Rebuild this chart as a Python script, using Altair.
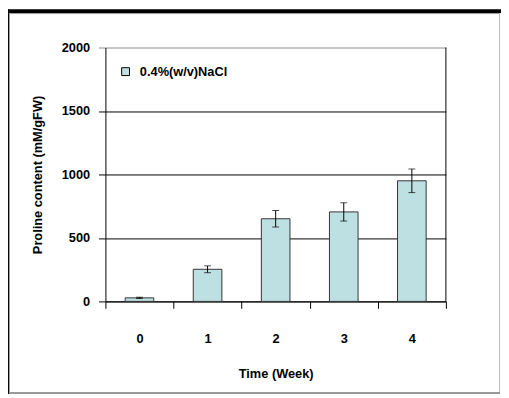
import altair as alt
import pandas as pd

# ---- data ----
weeks = ["0", "1", "2", "3", "4"]
proline = [28, 253, 651, 705, 950]
errors = [5, 27, 65, 72, 93]
series_name = "0.4%(w/v)NaCl"
y_ticks = [0, 500, 1000, 1500, 2000]

df = pd.DataFrame({"week": weeks, "proline": proline, "err": errors})
df["lo"] = df["proline"] - df["err"]
df["hi"] = df["proline"] + df["err"]
df["series"] = series_name

W, H = 346, 258
FONT = "Liberation Sans"
BAR = "#BDE1E3"

base = alt.Chart(df)

x_enc = alt.X(
    "week:N",
    sort=weeks,
    scale=alt.Scale(paddingInner=0, paddingOuter=0),
    axis=alt.Axis(
        title="Time (Week)",
        labelAngle=0,
        tickBand="extent",
        tickSize=7,
        labelPadding=25,
        titlePadding=22,
        grid=False,
    ),
)
y_enc = alt.Y(
    "proline:Q",
    scale=alt.Scale(domain=[0, 2000], nice=False),
    axis=alt.Axis(
        title="Proline content (mM/gFW)",
        values=y_ticks,
        format="d",
        tickSize=7,
        labelPadding=9,
        titlePadding=17,
        grid=True,
        gridColor={"condition": {"test": "datum.value == 2000", "value": "#8c8c8c"}, "value": "black"},
        tickColor={"condition": {"test": "datum.value == 2000", "value": "#8c8c8c"}, "value": "black"},
    ),
)

bars = base.mark_bar(width=alt.RelativeBandSize(0.42), stroke="#333333", strokeWidth=1).encode(
    x=x_enc,
    y=y_enc,
    color=alt.Color(
        "series:N",
        scale=alt.Scale(range=[BAR]),
        legend=alt.Legend(
            title=None,
            orient="none",
            legendX=14,
            legendY=18,
            symbolType="square",
            symbolSize=64,
            symbolStrokeColor="black",
            symbolStrokeWidth=1,
            labelFont=FONT,
            labelFontSize=13,
            labelFontWeight="bold",
            labelColor="black",
            labelOffset=8,
            padding=0,
        ),
    ),
)

err_line = base.mark_rule(color="black", strokeWidth=1).encode(
    x=alt.X("week:N", sort=weeks), y="lo:Q", y2="hi:Q"
)
cap_hi = base.mark_tick(color="black", size=7, thickness=1).encode(
    x=alt.X("week:N", sort=weeks), y="hi:Q"
)
cap_lo = base.mark_tick(color="black", size=7, thickness=1).encode(
    x=alt.X("week:N", sort=weeks), y="lo:Q"
)

one = alt.Chart(pd.DataFrame({"a": [0]}))
right_border = one.mark_rule(color="black", strokeWidth=1).encode(
    x=alt.value(W), y=alt.value(0), y2=alt.value(H)
)
frame_top_black = one.mark_rule(color="black", strokeWidth=4).encode(
    x=alt.value(-101), x2=alt.value(402), y=alt.value(-37)
)
frame_left_black = one.mark_rule(color="black", strokeWidth=4).encode(
    x=alt.value(-100), y=alt.value(-39), y2=alt.value(352)
)
frame_top_gray = one.mark_rule(color="#999999", strokeWidth=1).encode(
    x=alt.value(-97), x2=alt.value(401), y=alt.value(-34.5)
)
frame_left_gray = one.mark_rule(color="#999999", strokeWidth=1).encode(
    x=alt.value(-97.5), y=alt.value(-35), y2=alt.value(351)
)
frame_right = one.mark_rule(color="#bbbbbb", strokeWidth=1).encode(
    x=alt.value(400.5), y=alt.value(-35), y2=alt.value(352)
)
frame_bottom = one.mark_rule(color="#999999", strokeWidth=2).encode(
    x=alt.value(-98), x2=alt.value(401), y=alt.value(351)
)

chart = (
    alt.layer(
        bars, err_line, cap_hi, cap_lo, right_border,
        frame_top_black, frame_left_black, frame_top_gray, frame_left_gray, frame_right, frame_bottom,
    )
    .properties(
        width=W,
        height=H,
        autosize=alt.AutoSizeParams(type="none"),
        padding={"left": 99, "top": 37, "right": 56, "bottom": 95},
        background="white",
    )
    .configure_view(stroke=None)
    .configure_axis(
        labelFont=FONT,
        labelFontSize=13,
        labelFontWeight="bold",
        labelColor="black",
        titleFont=FONT,
        titleFontSize=13,
        titleFontWeight="bold",
        titleColor="black",
        domainColor="black",
        tickColor="black",
        domainWidth=1,
        tickWidth=1,
        gridWidth=1,
        gridOpacity=1,
    )
)

chart.save("out.html", embed_options={"renderer": "svg", "actions": False})
